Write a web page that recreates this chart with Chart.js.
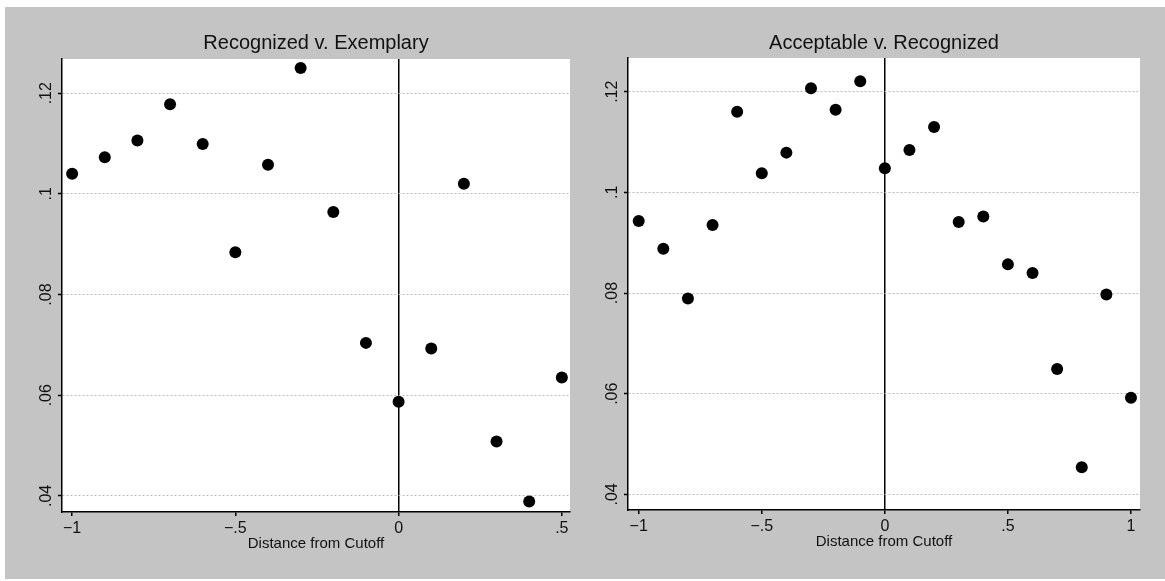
<!DOCTYPE html>
<html>
<head>
<meta charset="utf-8">
<script src="https://cdn.jsdelivr.net/npm/chart.js@4.4.0/dist/chart.umd.min.js"></script>
<style>
  html, body { margin: 0; padding: 0; background: #fff; width: 1165px; height: 581px; overflow: hidden; }
  #scan { position: absolute; left: 5px; top: 7px; right: 0; bottom: 2px; background: #c4c4c4; }
  canvas { position: absolute; top: 0; }
  #leftChart { left: 0; }
  #rightChart { left: 582px; }
</style>
</head>
<body>
<div id="scan"></div>
<canvas id="leftChart" width="582" height="581"></canvas>
<canvas id="rightChart" width="583" height="581"></canvas>
<script>
// distance bins and estimates
const leftTitle = 'Recognized v. Exemplary';
const leftDistance = [-1, -0.9, -0.8, -0.7, -0.6, -0.5, -0.4, -0.3, -0.2, -0.1, 0, 0.1, 0.2, 0.3, 0.4, 0.5];
const leftValues = [0.1040, 0.1073, 0.1106, 0.1178, 0.1099, 0.0884, 0.1058, 0.1250,
                    0.0964, 0.0704, 0.0587, 0.0693, 0.1020, 0.0508, 0.0389, 0.0635];
const leftXTicks = [-1, -0.5, 0, 0.5];
const leftXLabels = ['\u22121', '\u2212.5', '0', '.5'];

const rightTitle = 'Acceptable v. Recognized';
const rightDistance = [-1, -0.9, -0.8, -0.7, -0.6, -0.5, -0.4, -0.3, -0.2, -0.1, 0,
                       0.1, 0.2, 0.3, 0.4, 0.5, 0.6, 0.7, 0.8, 0.9, 1];
const rightValues = [0.0943, 0.0888, 0.0789, 0.0935, 0.1160, 0.1038, 0.1079, 0.1207, 0.1164, 0.1221, 0.1048,
                     0.1084, 0.1130, 0.0941, 0.0952, 0.0857, 0.0840, 0.0649, 0.0454, 0.0797, 0.0592];
const rightXTicks = [-1, -0.5, 0, 0.5, 1];
const rightXLabels = ['\u22121', '\u2212.5', '0', '.5', '1'];

const yTicks = [0.04, 0.06, 0.08, 0.1, 0.12];
const yTickLabels = ['.04', '.06', '.08', '.1', '.12'];
const xAxisTitle = 'Distance from Cutoff';

Chart.defaults.font.family = "'Liberation Sans', Arial, sans-serif";
Chart.defaults.color = '#111';

const plotBackground = {
  id: 'plotBackground',
  beforeDraw(chart) {
    const { ctx, chartArea } = chart;
    ctx.save();
    ctx.fillStyle = '#fff';
    ctx.fillRect(chartArea.left, chartArea.top, chartArea.right - chartArea.left, chartArea.bottom - chartArea.top);
    ctx.restore();
  }
};

function makeChart(id, cfg) {
  const ctx = document.getElementById(id).getContext('2d');
  return new Chart(ctx, {
    type: 'scatter',
    data: {
      datasets: [{
        data: cfg.xs.map((x, i) => ({ x: x, y: cfg.ys[i] })),
        pointRadius: 6,
        pointBackgroundColor: '#000',
        pointBorderWidth: 0,
        clip: false
      }]
    },
    options: {
      responsive: false,
      animation: false,
      layout: { padding: { left: 0, right: cfg.padRight, top: 0, bottom: 0 } },
      plugins: {
        legend: { display: false },
        tooltip: { enabled: false },
        title: {
          display: true,
          text: cfg.title,
          fullSize: false,
          color: '#111',
          font: { size: 20, weight: 'normal' },
          padding: { top: 31, bottom: cfg.titleGap }
        }
      },
      scales: {
        x: {
          type: 'linear',
          min: cfg.xMin,
          max: cfg.xMax,
          afterBuildTicks: (scale) => { scale.ticks = cfg.xTicks.map(v => ({ value: v })); },
          afterFit: (scale) => { scale.height = cfg.xAxisHeight; },
          ticks: {
            minRotation: 0, maxRotation: 0, padding: 3,
            font: { size: 16 },
            callback: (v, i) => cfg.xLabels[i]
          },
          grid: {
            color: (c) => (c.tick && c.tick.value === 0 ? '#000' : 'rgba(0,0,0,0)'),
            lineWidth: 1.5,
            tickLength: 4,
            tickColor: '#000',
            tickWidth: 1.5
          },
          border: { color: '#000', width: 1.5 },
          title: {
            display: true,
            text: xAxisTitle,
            font: { size: 15 },
            padding: { top: 0, bottom: cfg.xTitleBottom }
          }
        },
        y: {
          type: 'linear',
          min: cfg.yMin,
          max: cfg.yMax,
          afterBuildTicks: (scale) => { scale.ticks = yTicks.map(v => ({ value: v })); },
          afterFit: (scale) => { scale.width = cfg.yAxisWidth; },
          ticks: {
            minRotation: 90, maxRotation: 90, crossAlign: 'center', padding: 0,
            font: { size: 16 },
            callback: (v, i) => yTickLabels[i]
          },
          grid: {
            color: '#bcbcbc',
            lineWidth: 1,
            tickLength: 4,
            tickColor: '#000',
            tickWidth: 1.5
          },
          border: { color: '#000', width: 1.5, dash: [2, 2] }
        }
      }
    },
    plugins: [plotBackground]
  });
}

makeChart('leftChart', {
  title: leftTitle, xs: leftDistance, ys: leftValues,
  xTicks: leftXTicks, xLabels: leftXLabels,
  xMin: -1.031, xMax: 0.525, yMin: 0.0368, yMax: 0.1268,
  padRight: 12, titleGap: 4, yAxisWidth: 62, xAxisHeight: 69, xTitleBottom: 28
});

makeChart('rightChart', {
  title: rightTitle, xs: rightDistance, ys: rightValues,
  xTicks: rightXTicks, xLabels: rightXLabels,
  xMin: -1.0435, xMax: 1.0366, yMin: 0.0369, yMax: 0.1267,
  padRight: 25, titleGap: 3, yAxisWidth: 46, xAxisHeight: 71, xTitleBottom: 30
});
</script>
</body>
</html>
